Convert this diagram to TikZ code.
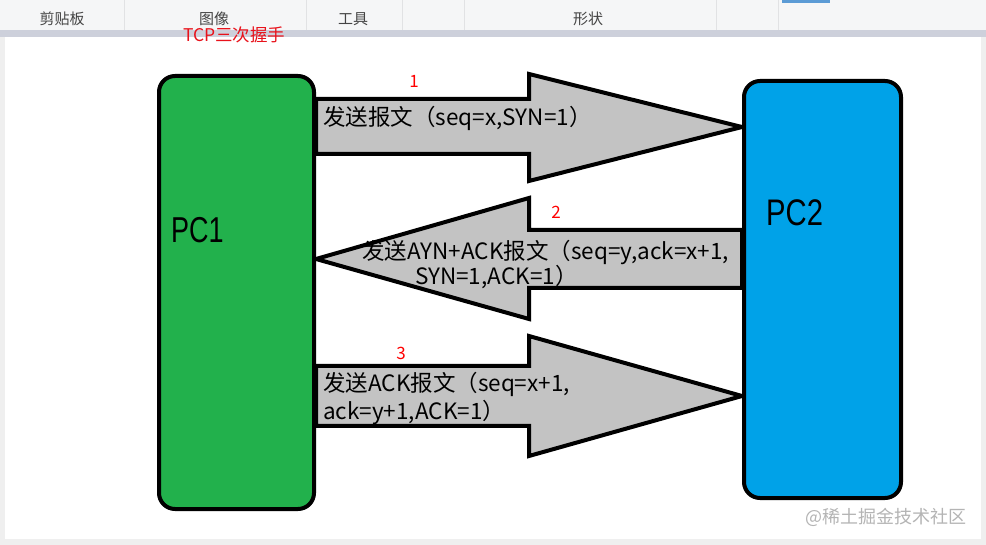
\documentclass[tikz,border=0pt]{standalone}
\usepackage{fontspec}
\setmainfont{Liberation Sans}
\newfontfamily\cjkfont{Noto Sans CJK SC}
\usepackage{tikz}
\usetikzlibrary{backgrounds}
\definecolor{pcgreen}{HTML}{22B14C}
\definecolor{pcblue}{HTML}{00A2E8}
\definecolor{arrowgray}{HTML}{C3C3C3}
\definecolor{bargray}{HTML}{F5F6F7}
\definecolor{bandgray}{HTML}{CDD0DB}
\definecolor{pagegray}{HTML}{EFEFEF}
\definecolor{sepgray}{HTML}{E1E2E4}
\definecolor{toolgray}{HTML}{444444}
\definecolor{tabblue}{HTML}{5B9BD5}
\definecolor{titlered}{HTML}{E8121B}
\definecolor{markgray}{HTML}{B4B4B4}

\begin{document}
\begin{tikzpicture}[x=1pt, y=-1pt,
    pcbox/.style={rectangle, draw, line width=4pt, rounded corners=16pt, inner sep=0pt},
    pcname/.style={anchor=west, inner sep=0pt, font=\fontsize{36}{36}\selectfont},
    blockarrow/.style={draw, fill=arrowgray, line width=4pt, line join=miter},
    msg/.style={anchor=west, inner sep=0pt, align=left, font=\cjkfont\fontsize{22.5}{28}\selectfont},
    stepnum/.style={inner sep=0pt, text=red, font=\cjkfont\fontsize{17}{17}\selectfont},
    toolbar/.style={inner sep=0pt, text=toolgray, font=\cjkfont\fontsize{15}{15}\selectfont}
]
\useasboundingbox (0,0) rectangle (986,545);

\node[pcbox, fill=pcgreen, minimum width=155pt, minimum height=433pt] (pc1) at (236.5,292.5) {};
\node[pcbox, fill=pcblue, minimum width=157pt, minimum height=417pt] (pc2) at (822.5,289.5) {};

\node[pcname] (pc1name) at (171,230) {\scalebox{0.75}[1]{PC1}};
\node[pcname, font=\fontsize{37}{37}\selectfont] (pc2name) at (766,212.5) {\scalebox{0.79}[1]{PC2}};

\node[msg] (m1) at (323,118) {发送报文（seq=x,SYN=1）};
\node[msg, font=\cjkfont\fontsize{22.5}{23}\selectfont] (m2) at (362,264.5) {发送AYN+ACK报文（seq=y,ack=x+1,\\\hspace*{53pt}SYN=1,ACK=1）};
\node[msg] (m3) at (323,399) {发送ACK报文（seq=x+1,\\ack=y+1,ACK=1）};

\node[stepnum] (n1) at (414,81) {1};
\node[stepnum] (n2) at (556,212) {2};
\node[stepnum] (n3) at (401,353) {3};

\node[toolbar] (t1) at (62,19) {剪贴板};
\node[toolbar] (t2) at (214,19) {图像};
\node[toolbar] (t3) at (353,19) {工具};
\node[toolbar] (t4) at (588,19) {形状};

\node[anchor=west, inner sep=0pt, text=titlered, font=\cjkfont\fontsize{17.5}{17.5}\selectfont] (title) at (183,35) {TCP三次握手};
\node[anchor=west, inner sep=0pt, text=markgray, font=\cjkfont\fontsize{18}{18}\selectfont] (mark) at (805,517) {@稀土掘金技术社区};

\begin{pgfonlayer}{background}
\fill[pagegray] (0,0) rectangle (986,545);
\fill[bargray] (0,0) rectangle (986,30);
\fill[tabblue] (782,0) rectangle (830,3);
\foreach \x in {124,306,402,464,716,778}
  \draw[sepgray] (\x,0) -- (\x,30);
\fill[bandgray] (0,30) rectangle (986,37);
\fill[white] (5,37) rectangle (981,539);

\draw[blockarrow] (pc1.east |- 0,99) -- (529,99) -- (529,74) -- (pc2.west |- 0,127)
  -- (529,181) -- (529,154) -- (pc1.east |- 0,154) -- cycle;
\draw[blockarrow] (pc2.west |- 0,230) -- (529,230) -- (529,198) -- (pc1.east |- 0,259)
  -- (529,319) -- (529,288) -- (pc2.west |- 0,288) -- cycle;
\draw[blockarrow] (pc1.east |- 0,366) -- (529,366) -- (529,336) -- (pc2.west |- 0,396)
  -- (529,456) -- (529,426) -- (pc1.east |- 0,426) -- cycle;
\end{pgfonlayer}

\end{tikzpicture}
\end{document}
